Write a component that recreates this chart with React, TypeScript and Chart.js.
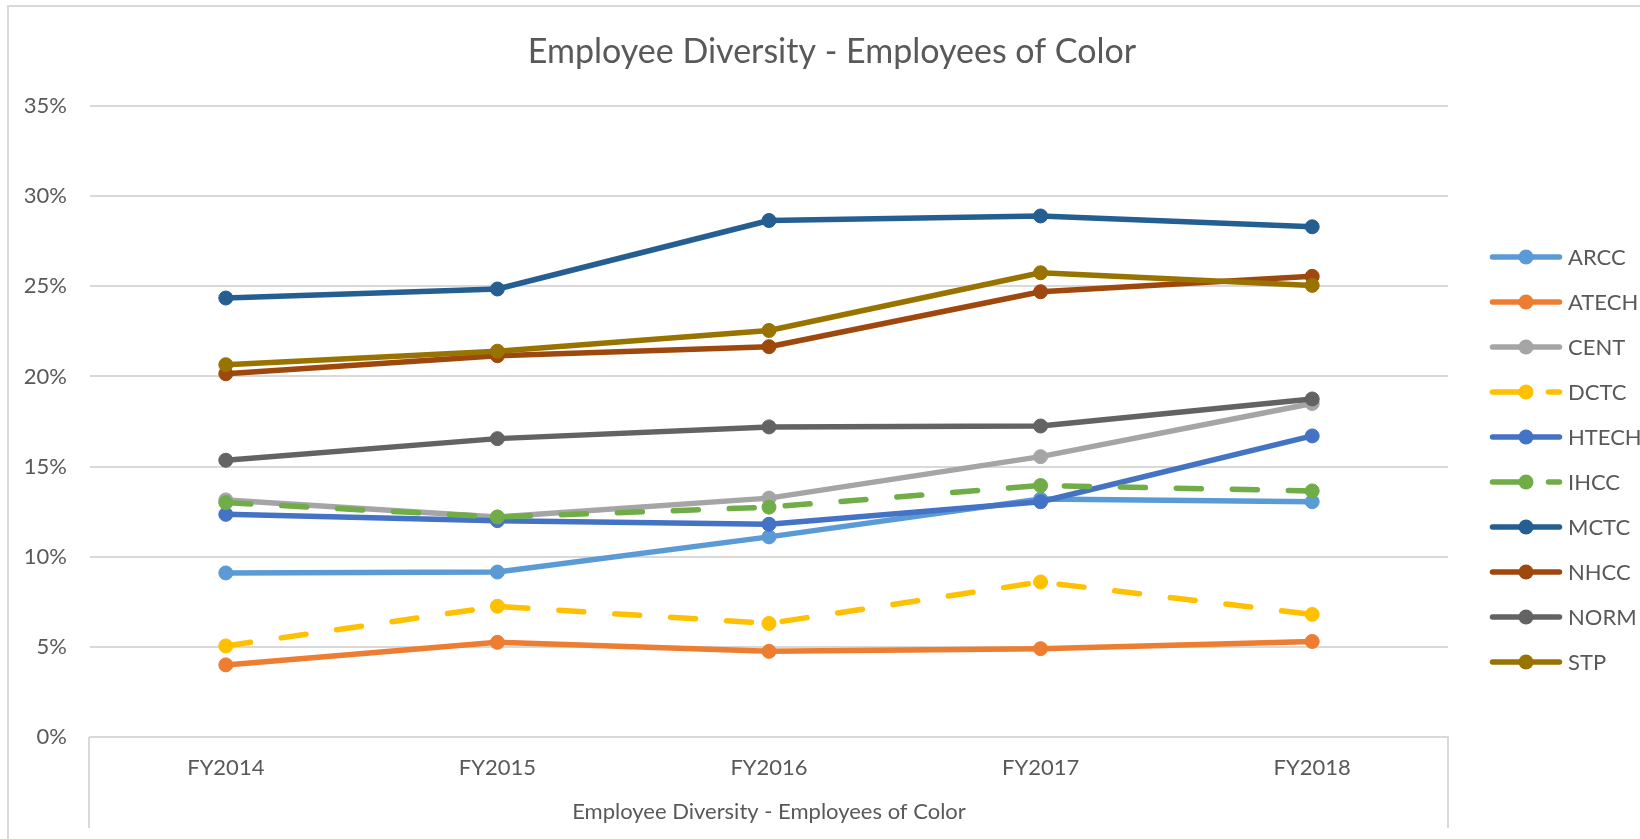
import React, { useEffect, useRef } from 'react';
import { Chart, registerables } from 'chart.js';

Chart.register(...registerables);

// ---- data ----
const categories = ['FY2014', 'FY2015', 'FY2016', 'FY2017', 'FY2018'];
const seriesNames = ['ARCC', 'ATECH', 'CENT', 'DCTC', 'HTECH', 'IHCC', 'MCTC', 'NHCC', 'NORM', 'STP'];
const ARCC = [9.1, 9.15, 11.1, 13.2, 13.05];
const ATECH = [4.0, 5.25, 4.75, 4.9, 5.3];
const CENT = [13.15, 12.2, 13.25, 15.55, 18.5];
const DCTC = [5.05, 7.25, 6.3, 8.6, 6.8];
const HTECH = [12.35, 12.0, 11.8, 13.05, 16.7];
const IHCC = [13.0, 12.2, 12.75, 13.95, 13.65];
const MCTC = [24.35, 24.85, 28.65, 28.9, 28.3];
const NHCC = [20.15, 21.15, 21.65, 24.7, 25.55];
const NORM = [15.35, 16.55, 17.2, 17.25, 18.75];
const STP = [20.65, 21.4, 22.55, 25.75, 25.05];
const seriesColors = ['#5B9BD5', '#ED7D31', '#A5A5A5', '#FFC000', '#4472C4', '#70AD47', '#255E91', '#9E480E', '#636363', '#997300'];
const dashedSeries = ['DCTC', 'IHCC'];
const yMin = 0;
const yMax = 35;
const yStep = 5;
const chartTitle = 'Employee Diversity - Employees of Color';
const axisTitle = 'Employee Diversity - Employees of Color';

// ---- style ----
const FONT = 'Lato, "Open Sans", sans-serif';
const TEXT = '#595959';
const GRID = '#D9D9D9';
const LABEL_SIZE = 22;
const TITLE_SIZE = 34;
const DASH = [25, 31];

export default function App() {
  const ref = useRef<HTMLCanvasElement | null>(null);

  useEffect(() => {
    const canvas = ref.current;
    if (!canvas) return;
    const values = [ARCC, ATECH, CENT, DCTC, HTECH, IHCC, MCTC, NHCC, NORM, STP];
    const datasets = seriesNames.map((name, i) => {
      const c = seriesColors[i];
      return {
        label: name,
        data: values[i],
        borderColor: c,
        backgroundColor: c,
        borderWidth: 5.5,
        borderDash: dashedSeries.includes(name) ? DASH : [],
        borderCapStyle: 'round' as const,
        borderJoinStyle: 'round' as const,
        pointRadius: 7,
        pointHoverRadius: 7,
        pointBackgroundColor: c,
        pointBorderColor: c,
        pointBorderWidth: 1,
        tension: 0,
        fill: false,
        order: seriesNames.length - i,
      };
    });

    const decor = {
      id: 'decor',
      beforeDraw(chart: any) {
        const ctx = chart.ctx;
        ctx.save();
        ctx.fillStyle = '#ffffff';
        ctx.fillRect(0, 0, chart.width, chart.height);
        ctx.strokeStyle = GRID;
        ctx.lineWidth = 2;
        ctx.strokeRect(8, 6, chart.width + 40, chart.height + 40);
        ctx.restore();
      },
      afterDraw(chart: any) {
        const ctx = chart.ctx;
        const area = chart.chartArea;
        const xs = chart.scales.x;
        ctx.save();
        // title
        ctx.fillStyle = TEXT;
        ctx.font = `${TITLE_SIZE}px ${FONT}`;
        ctx.textAlign = 'center';
        ctx.textBaseline = 'alphabetic';
        ctx.fillText(chartTitle, 832, 63);
        // category group separators
        ctx.strokeStyle = GRID;
        ctx.lineWidth = 2;
        ctx.beginPath();
        ctx.moveTo(xs.left - 1, area.bottom);
        ctx.lineTo(xs.left - 1, xs.bottom);
        ctx.moveTo(xs.right, area.bottom);
        ctx.lineTo(xs.right, xs.bottom);
        ctx.stroke();
        // legend
        chart.data.datasets.forEach((ds: any, i: number) => {
          const y = 257 + i * 45;
          ctx.strokeStyle = ds.borderColor;
          ctx.lineWidth = 5.5;
          ctx.lineCap = 'round';
          ctx.setLineDash(ds.borderDash && ds.borderDash.length ? [34, 22] : []);
          ctx.beginPath();
          ctx.moveTo(1492.5, y);
          ctx.lineTo(1559.5, y);
          ctx.stroke();
          ctx.setLineDash([]);
          ctx.fillStyle = ds.borderColor;
          ctx.beginPath();
          ctx.arc(1526, y, 7.5, 0, Math.PI * 2);
          ctx.fill();
          ctx.fillStyle = TEXT;
          ctx.font = `${LABEL_SIZE}px ${FONT}`;
          ctx.textAlign = 'left';
          ctx.textBaseline = 'middle';
          ctx.fillText(ds.label, 1568, y + 1);
        });
        ctx.restore();
      },
    };

    const chart = new Chart(canvas, {
      type: 'line',
      data: { labels: categories, datasets: datasets as any },
      options: {
        responsive: false,
        animation: false,
        events: [],
        layout: { padding: { top: 106, right: 192, bottom: 11, left: 0 } },
        plugins: {
          legend: { display: false },
          title: { display: false },
          tooltip: { enabled: false },
        },
        scales: {
          x: {
            offset: true,
            grid: { display: true, drawOnChartArea: false, drawTicks: false },
            border: { display: true, color: GRID, width: 2 },
            ticks: {
              color: TEXT,
              font: { family: FONT, size: LABEL_SIZE },
              padding: 17.5,
              maxRotation: 0,
            },
            title: {
              display: true,
              text: axisTitle,
              color: TEXT,
              font: { family: FONT, size: LABEL_SIZE },
              padding: { top: 0, bottom: 3 },
            },
            afterFit(scale: any) {
              scale.height = 91;
            },
          },
          y: {
            min: yMin,
            max: yMax,
            border: { display: false },
            grid: { color: GRID, lineWidth: 2, drawTicks: false },
            ticks: {
              stepSize: yStep,
              color: TEXT,
              font: { family: FONT, size: LABEL_SIZE },
              padding: 23,
              callback: (v: any) => `${v}%`,
            },
            afterFit(scale: any) {
              scale.width = 90;
            },
          },
        },
      },
      plugins: [decor],
    });
    return () => chart.destroy();
  }, []);

  return (
    <div style={{ position: 'absolute', left: 0, top: 0, width: 1640, height: 839, background: '#fff' }}>
      <canvas ref={ref} width={1640} height={839} style={{ display: 'block', width: 1640, height: 839 }} />
    </div>
  );
}
